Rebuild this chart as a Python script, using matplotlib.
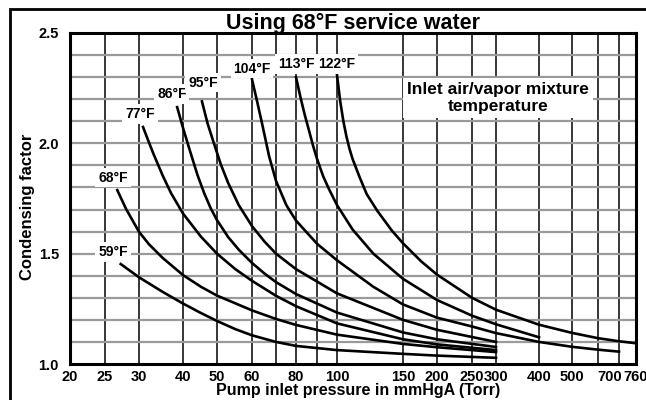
import numpy as np
import matplotlib.pyplot as plt
from matplotlib.patches import Rectangle
from matplotlib.transforms import ScaledTranslation

plt.rcParams['font.family'] = ['Liberation Sans', 'DejaVu Sans']
plt.rcParams['font.weight'] = 'bold'

# pressure grid lines of the printed chart (Torr)
grid_torr = [20, 25, 30, 40, 50, 60, 70, 80, 90, 100, 150, 200, 250, 300, 400, 500, 600, 700, 760]
tick_labels = ['20', '25', '30', '40', '50', '60', '', '80', '', '100', '150', '200', '250',
               '300', '400', '500', '', '700', '760']
y_ticks = [1.0, 1.5, 2.0, 2.5]

# condensing factor curves
p59 = [27.2, 30, 35, 40, 45, 50, 55, 60, 70, 80, 100, 150, 200, 300]
f59 = [1.453, 1.393, 1.327, 1.274, 1.231, 1.195, 1.158, 1.13, 1.10, 1.082, 1.063, 1.046, 1.038, 1.028]

p68 = [26.7, 28, 30, 32, 35, 40, 45, 50, 60, 70, 80, 100, 150, 200, 300]
f68 = [1.788, 1.702, 1.599, 1.543, 1.481, 1.403, 1.35, 1.31, 1.243, 1.204, 1.177, 1.133, 1.091,
       1.076, 1.054]

p77 = [30.8, 32, 33, 35, 37, 40, 45, 50, 55, 60, 70, 80, 100, 150, 200, 300]
f77 = [2.074, 2.005, 1.951, 1.855, 1.774, 1.682, 1.577, 1.50, 1.43, 1.377, 1.309, 1.262, 1.184,
       1.112, 1.089, 1.063]

p86 = [38.5, 40, 42, 44, 46, 48, 50, 53, 56, 60, 65, 70, 80, 100, 150, 200, 300]
f86 = [2.164, 2.07, 1.959, 1.856, 1.773, 1.705, 1.652, 1.575, 1.518, 1.458, 1.41, 1.371, 1.317,
       1.233, 1.143, 1.112, 1.077]

p95 = [45.3, 47, 49, 51, 53, 56, 60, 65, 70, 80, 100, 150, 200, 300]
f95 = [2.19, 2.09, 2.0, 1.905, 1.82, 1.72, 1.625, 1.555, 1.50, 1.43, 1.32, 1.20, 1.155, 1.10]

p104 = [60, 62, 64, 67, 70, 75, 80, 90, 100, 125, 150, 200, 250, 300, 400, 500, 600, 700]
f104 = [2.29, 2.19, 2.09, 1.94, 1.83, 1.72, 1.65, 1.545, 1.47, 1.35, 1.27, 1.21, 1.17, 1.14, 1.10,
        1.078, 1.065, 1.056]

p113 = [80, 82, 84, 86, 88, 90, 93, 96, 100, 110, 125, 150, 200, 250, 300, 400]
f113 = [2.30, 2.21, 2.13, 2.06, 1.99, 1.93, 1.85, 1.79, 1.72, 1.61, 1.50, 1.386, 1.29, 1.219,
        1.18, 1.121]

p122 = [100, 102, 104, 106, 108, 110, 115, 120, 128, 140, 150, 175, 200, 250, 300, 400, 500, 600,
        700, 760]
f122 = [2.31, 2.19, 2.10, 2.03, 1.975, 1.93, 1.845, 1.77, 1.695, 1.605, 1.547, 1.465, 1.405, 1.30,
        1.246, 1.178, 1.141, 1.117, 1.103, 1.094]

curves = [('59°F', p59, f59), ('68°F', p68, f68), ('77°F', p77, f77), ('86°F', p86, f86),
          ('95°F', p95, f95), ('104°F', p104, f104), ('113°F', p113, f113), ('122°F', p122, f122)]

# where the curve labels sit (Torr, factor)
label_at = {'59°F': (26.1, 1.507), '68°F': (26.1, 1.845), '77°F': (30.2, 2.133), '86°F': (37.2, 2.223),
            '95°F': (45.6, 2.275), '104°F': (60, 2.339), '113°F': (80, 2.359), '122°F': (100, 2.359)}

# the printed x axis is only roughly logarithmic: map each grid line to its spot
grid_pos = [0, 35, 69, 113, 147, 182, 206, 226, 247, 267, 333, 367, 402, 426, 469, 502, 528, 549, 566]
lg = np.log10(grid_torr)
lg_ext = np.r_[lg[0] - 3, lg, lg[-1] + 3]
pos_ext = np.r_[grid_pos[0] - 3 * 358, grid_pos, grid_pos[-1] + 3 * 358]


def fwd(x):
    x = np.clip(np.asarray(x, float), 1e-6, None)
    return np.interp(np.log10(x), lg_ext, pos_ext)


def inv(p):
    return 10 ** np.interp(np.asarray(p, float), pos_ext, lg_ext)


fig = plt.figure(figsize=(6.46, 4.0), dpi=100)
ax = fig.add_axes([70 / 646, 36 / 400, 566 / 646, 331 / 400])
ax.set_xscale('function', functions=(fwd, inv))
ax.set_xlim(20, 760)
ax.set_ylim(1.0, 2.5)

for x in grid_torr:
    ax.axvline(x, color='#262626', lw=1.3, zorder=1)
for y in np.arange(1.1, 2.5, 0.1):
    ax.axhline(y, color='#9a9a9a', lw=1.6, zorder=1)

for name, p, f in curves:
    ax.plot(p, f, color='black', lw=1.9, zorder=3, solid_joinstyle='round')
    lx, ly = label_at[name]
    ax.text(lx, ly, name, ha='center', va='center', fontsize=10, fontweight='bold', zorder=4,
            bbox=dict(facecolor='white', edgecolor='none', pad=2))

ax.text(304, 2.205, 'Inlet air/vapor mixture\ntemperature', ha='center', va='center',
        fontsize=12.5, fontweight='bold', linespacing=1.1, zorder=4,
        bbox=dict(facecolor='white', edgecolor='none', pad=3))

ax.set_xticks(grid_torr)
ax.set_xticklabels(tick_labels)
ax.xaxis.set_minor_locator(plt.NullLocator())
ax.set_yticks(y_ticks)
ax.set_yticklabels([f'{v:.1f}' for v in y_ticks])
ax.tick_params(axis='both', length=0, labelsize=10.5)
ax.tick_params(axis='x', pad=4)
ax.tick_params(axis='y', pad=8)
for lab in ax.get_xticklabels() + ax.get_yticklabels():
    lab.set_fontweight('bold')
# the printed 700 label is nudged left, clear of 760
xt = ax.get_xticklabels()
xt[17].set_transform(xt[17].get_transform() + ScaledTranslation(-9 / 100, 0, fig.dpi_scale_trans))

for s in ax.spines.values():
    s.set_linewidth(2.2)
    s.set_zorder(5)

ax.set_xlabel('Pump inlet pressure in mmHgA (Torr)', fontsize=11.5, fontweight='bold')
ax.xaxis.set_label_coords((358 - 70) / 566, -0.058)
ax.set_ylabel('Condensing factor', fontsize=12, fontweight='bold')
ax.yaxis.set_label_coords(-0.062, 0.474)
fig.text(353 / 646, 1 - 23 / 400, 'Using 68°F service water', ha='center', va='center',
         fontsize=15.5, fontweight='bold')

fig.add_artist(Rectangle((10 / 646, -0.05), 1.2, 1.05 - 9 / 400, transform=fig.transFigure,
                         fill=False, edgecolor='black', lw=2, clip_on=False))

fig.savefig('out.png', dpi=100)
